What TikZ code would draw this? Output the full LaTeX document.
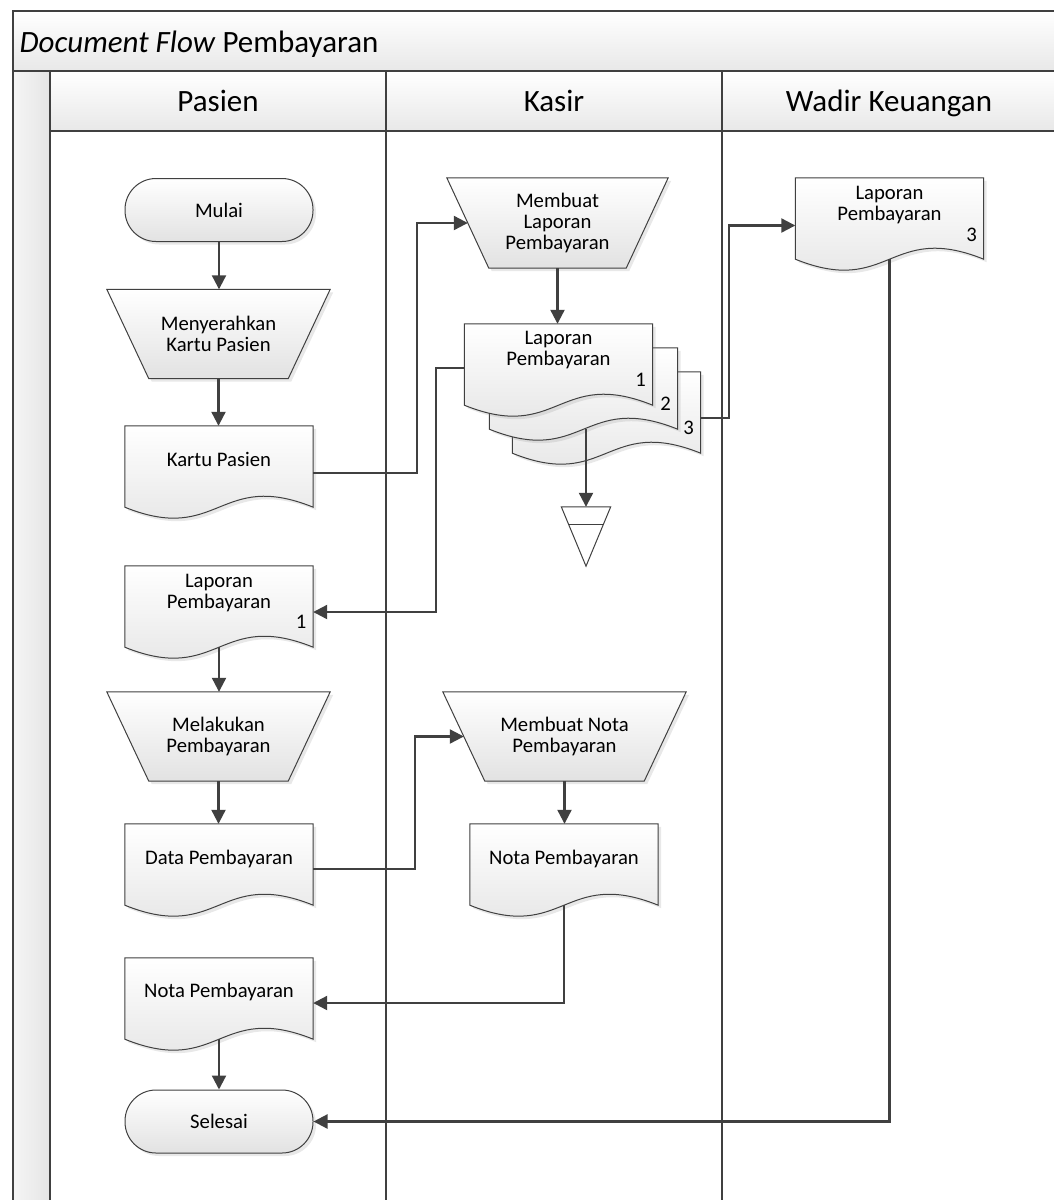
\documentclass[tikz,border=0pt]{standalone}
\usepackage{fontspec}
\setmainfont{Carlito}
\usetikzlibrary{arrows.meta,calc,shadows}

\pgfdeclarelayer{lanes}
\pgfdeclarelayer{background}
\pgfsetlayers{lanes,background,main}

\definecolor{garis}{HTML}{404040}
\definecolor{isibawah}{HTML}{E2E2E2}

% teks dokumen: baseline baris pertama, lalu isi
\newcommand{\doctxt}[2]{\parbox[c][81pt][t]{184pt}{\centering\rule{0pt}{#1}#2}}

\tikzset{
  teks/.style={font=\fontsize{20.7}{21}\selectfont, text=black},
  kepala/.style={font=\fontsize{31}{31}\selectfont, text=black, anchor=base},
  bentuk/.style={draw=garis, line width=1pt, top color=white, bottom color=isibawah,
    drop shadow={opacity=0.18, shadow xshift=3pt, shadow yshift=-3pt}},
  terminal/.style={teks, bentuk, rounded corners=31pt, minimum width=188pt, minimum height=63pt},
  manual/.style={teks, align=center, minimum height=89pt, inner sep=0pt},
  dokumen/.style={teks, minimum width=188pt, minimum height=81pt, inner sep=0pt},
  nomor/.style={teks, inner sep=0pt},
  arsipan/.style={minimum width=49pt, minimum height=59pt, inner sep=0pt},
  arus/.style={draw=garis, line width=2.2pt, -{Triangle[length=14pt,width=14pt]}},
  lajur/.style={draw=black!75, line width=1.5pt}
}

\begin{document}
\begin{tikzpicture}[x=1pt, y=-1pt]
\useasboundingbox (0,0) rectangle (1053,1200);

% swimlane
\begin{pgfonlayer}{lanes}
  \shade[top color=white, bottom color=black!9] (13,11) rectangle (1070,71);
  \shade[top color=white, bottom color=black!9] (50,71) rectangle (1070,131);
  \shade[left color=black!4, right color=black!10] (13,71) rectangle (50,1210);
  \draw[lajur] (1070,11) -- (13,11) -- (13,1210);
  \draw[lajur] (13,71) -- (1070,71);
  \draw[lajur] (50,131) -- (1070,131);
  \foreach \x in {50,386,722} \draw[lajur] (\x,71) -- (\x,1210);
\end{pgfonlayer}

\node[kepala, anchor=base west] (judul) at (16,52) {\textit{Document Flow} Pembayaran};
\node[kepala] (hpasien) at (218,111) {Pasien};
\node[kepala] (hkasir) at (554,111) {Kasir};
\node[kepala] (hwadir) at (889,111) {Wadir Keuangan};

% Pasien
\node[terminal] (mulai) at (219,210) {Mulai};
\node[manual, minimum width=223pt] (serah) at (218.5,334) {Menyerahkan\\Kartu Pasien};
\node[dokumen] (kartu) at (219,466.5) {\doctxt{40pt}{Kartu Pasien}};
\node[dokumen] (lappas) at (219,606.5) {\doctxt{21pt}{Laporan\\Pembayaran}};
\node[nomor] (nopas) at ([xshift=-12pt,yshift=25pt]lappas.south east) {1};
\node[manual, minimum width=223pt] (melakukan) at (218.5,736.5) {Melakukan\\Pembayaran};
\node[dokumen] (datapas) at (219,864.5) {\doctxt{40pt}{Data Pembayaran}};
\node[dokumen] (notapas) at (219,998.5) {\doctxt{39pt}{Nota Pembayaran}};
\node[terminal] (selesai) at (219,1121.5) {Selesai};

% Kasir
\node[manual, minimum width=221pt, minimum height=90pt] (buatlap) at (557.5,223) {Membuat\\Laporan\\Pembayaran};
\node[dokumen] (laptiga) at (606.5,412.5) {};
\node[dokumen] (lapdua) at (583.5,388.5) {};
\node[dokumen] (lapsatu) at (558.5,364.5) {\doctxt{20pt}{Laporan\\Pembayaran}};
\node[nomor] (nosatu) at ([xshift=-12pt,yshift=25pt]lapsatu.south east) {1};
\node[nomor] (nodua) at ([xshift=-12pt,yshift=25pt]lapdua.south east) {2};
\node[nomor] (notiga) at ([xshift=-12pt,yshift=25pt]laptiga.south east) {3};
\node[arsipan] (arsip) at (586,536.5) {};
\node[manual, minimum width=243pt] (buatnota) at (564.5,736.5) {Membuat Nota\\Pembayaran};
\node[dokumen] (notakas) at (564,864.5) {\doctxt{40pt}{Nota Pembayaran}};

% Wadir Keuangan
\node[dokumen] (lapwadir) at (889.5,218.5) {\doctxt{21pt}{Laporan\\Pembayaran}};
\node[nomor] (nowadir) at ([xshift=-12pt,yshift=24pt]lapwadir.south east) {3};

% bentuk di belakang teks
\begin{pgfonlayer}{background}
  \foreach \n in {laptiga,lapdua,lapsatu,kartu,lappas,datapas,notapas,notakas,lapwadir}
    \draw[bentuk] (\n.north west) -- (\n.north east) -- (\n.south east)
      .. controls ([yshift=38pt]\n.south) and ([yshift=-38pt]\n.south) .. (\n.south west) -- cycle;
  \foreach \n in {serah,buatlap,melakukan,buatnota}
    \draw[bentuk] (\n.north west) -- (\n.north east) -- ([xshift=-42pt]\n.south east)
      -- ([xshift=42pt]\n.south west) -- cycle;
  \draw[draw=garis, line width=1pt, fill=white] (arsip.north west) -- (arsip.north east) -- (arsip.south) -- cycle;
  \draw[draw=garis, line width=1pt] ($(arsip.north west)!0.29!(arsip.south)$) -- ($(arsip.north east)!0.29!(arsip.south)$);
\end{pgfonlayer}

% arus dokumen
\draw[arus] (mulai.south) -- (mulai.south |- serah.north);
\draw[arus] (serah.south) -- (serah.south |- kartu.north);
\draw[arus] ([yshift=-6.5pt]kartu.east) -- ++(104,0) |- ([xshift=21pt]buatlap.west);
\draw[arus] (buatlap.south) -- (buatlap.south |- lapsatu.north);
\draw[arus] ([yshift=-3.5pt]lapsatu.west) -- ++(-28,0) |- ([yshift=-5.5pt]lappas.east);
\draw[arus] ([yshift=-5.5pt]laptiga.east) -- ++(28,0) |- ([yshift=-7pt]lapwadir.west);
\draw[arus] (lapdua.south -| arsip.north) -- (arsip.north);
\draw[arus] (lappas.south) -- (lappas.south |- melakukan.north);
\draw[arus] (melakukan.south) -- (melakukan.south |- datapas.north);
\draw[arus] ([yshift=-4.5pt]datapas.east) -- ++(102,0) |- ([xshift=21pt]buatnota.west);
\draw[arus] (buatnota.south) -- (buatnota.south |- notakas.north);
\draw[arus] (notakas.south) |- ([yshift=-4.5pt]notapas.east);
\draw[arus] (notapas.south) -- (notapas.south |- selesai.north);
\draw[arus] (lapwadir.south) |- (selesai.east);
\end{tikzpicture}
\end{document}
